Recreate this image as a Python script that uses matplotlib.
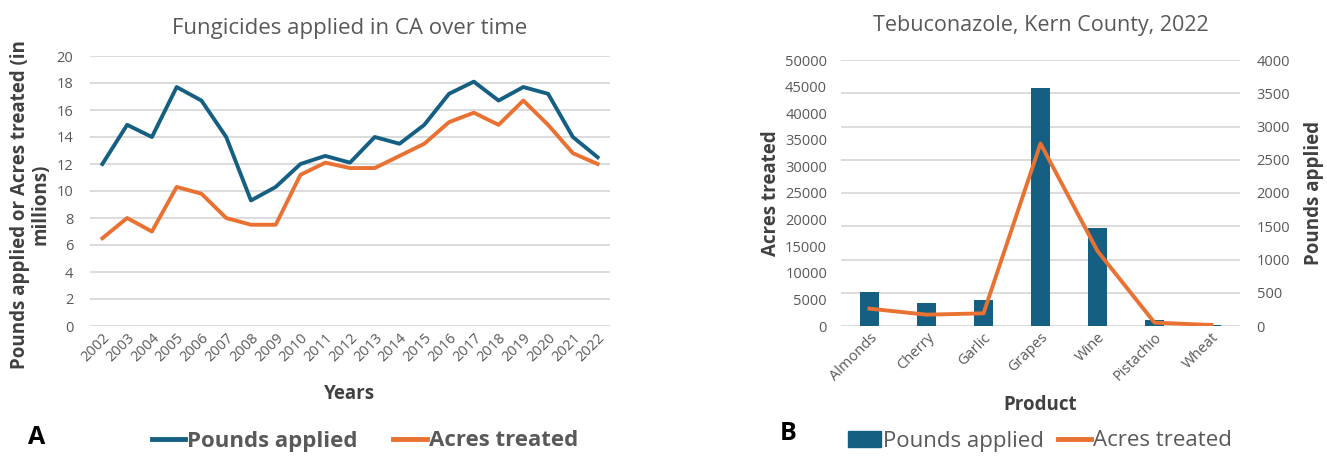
import matplotlib.pyplot as plt
from matplotlib.lines import Line2D
from matplotlib.patches import Patch

# Panel A: fungicides in CA, millions
years = [str(y) for y in range(2002, 2023)]
pounds_applied = [12.0, 14.9, 14.0, 17.7, 16.7, 14.0, 9.3, 10.3, 12.0, 12.6, 12.1,
                  14.0, 13.5, 14.9, 17.2, 18.1, 16.7, 17.7, 17.2, 14.0, 12.5]
acres_treated = [6.5, 8.0, 7.0, 10.3, 9.8, 8.0, 7.5, 7.5, 11.2, 12.1, 11.7,
                 11.7, 12.6, 13.5, 15.1, 15.8, 14.9, 16.7, 14.9, 12.8, 12.0]

# Panel B: Tebuconazole, Kern County 2022
products = ["Almonds", "Cherry", "Garlic", "Grapes", "Wine", "Pistachio", "Wheat"]
tebu_pounds = [511, 351, 391, 3584, 1478, 90, 20]
tebu_acres = [3260, 2130, 2380, 34300, 14100, 630, 190]

BLUE = "#156082"
ORANGE = "#E97132"
GRID = "#d9d9d9"
TXT = "#595959"
LAB = "#404040"

plt.rcParams['font.family'] = ['Open Sans', 'DejaVu Sans']

fig = plt.figure(figsize=(13.27, 4.57), dpi=100)
W, H = 1327, 457

def frac(x0, y0, x1, y1):
    return [x0 / W, 1 - y1 / H, (x1 - x0) / W, (y1 - y0) / H]

def style(ax):
    for s in ax.spines.values():
        s.set_visible(False)
    ax.tick_params(length=0, colors=TXT, labelsize=10.5)
    ax.grid(axis='y', color=GRID, linewidth=1.3)
    ax.set_axisbelow(True)

# ---- A ----
axA = fig.add_axes(frac(90, 56, 610, 326))
style(axA)
x = list(range(len(years)))
axA.plot(x, pounds_applied, color=BLUE, lw=2.8, solid_joinstyle='round')
axA.plot(x, acres_treated, color=ORANGE, lw=2.8, solid_joinstyle='round')
axA.set_xlim(-0.5, len(years) - 0.5)
axA.set_ylim(0, 20)
axA.set_yticks(range(0, 21, 2))
axA.set_xticks(x)
axA.set_xticklabels(years, rotation=45, ha='right', rotation_mode='anchor')
axA.tick_params(axis='y', pad=12)
axA.tick_params(axis='x', pad=3)
axA.set_title("Fungicides applied in CA over time", color=TXT, fontsize=16, pad=16)
axA.set_xlabel("Years", color=LAB, fontsize=13.5, fontweight='bold', labelpad=14)
axA.set_ylabel("Pounds applied or Acres treated (in\nmillions)", color=LAB,
               fontsize=13.5, fontweight='bold', linespacing=1.05)
axA.yaxis.set_label_coords(-0.075, 0.45)

handlesA = [Line2D([], [], color=BLUE, lw=3.5), Line2D([], [], color=ORANGE, lw=3.5)]
fig.legend(handlesA, ["Pounds applied", "Acres treated"], loc='center',
           bbox_to_anchor=(365 / W, 1 - 441 / H), ncol=2, frameon=False,
           handlelength=1.5, handletextpad=0.1, columnspacing=1.6,
           prop={'weight': 'bold', 'size': 16}, labelcolor=TXT)
fig.text(28 / W, 1 - 437 / H, "A", fontsize=18, fontweight='bold', va='center')

# ---- B ----
axB = fig.add_axes(frac(841, 60, 1240, 326))
style(axB)
xb = list(range(len(products)))
axB2 = axB.twinx()
for s in axB2.spines.values():
    s.set_visible(False)
axB2.tick_params(length=0, colors=TXT, labelsize=10.5, pad=12)
axB2.bar(xb, tebu_pounds, width=0.33, color=BLUE, zorder=1)
axB2.set_ylim(0, 4000)
axB2.set_yticks(range(0, 4001, 500))
axB2.set_ylabel("Pounds applied", color=LAB, fontsize=13.5, fontweight='bold', labelpad=10)

axB.set_zorder(axB2.get_zorder() + 1)
axB.patch.set_visible(False)
axB.plot(xb, tebu_acres, color=ORANGE, lw=2.8, solid_joinstyle='round', zorder=3)
axB.set_ylim(0, 50000)
axB.set_yticks(range(0, 50001, 5000))
axB.set_xlim(-0.5, len(products) - 0.5)
axB.set_xticks(xb)
axB.set_xticklabels(products, rotation=45, ha='right', rotation_mode='anchor')
axB.tick_params(axis='y', pad=10)
axB.tick_params(axis='x', pad=3)
axB.set_ylabel("Acres treated", color=LAB, fontsize=13.5, fontweight='bold', labelpad=3)
axB.set_xlabel("Product", color=LAB, fontsize=13.5, fontweight='bold', labelpad=8)
axB.grid(False)
axB2.grid(axis='y', color=GRID, linewidth=1.3)
axB2.set_axisbelow(True)
axB.set_title("Tebuconazole, Kern County, 2022", color=TXT, fontsize=15.5, pad=21)

handlesB = [Patch(color=BLUE), Line2D([], [], color=ORANGE, lw=3.5)]
fig.legend(handlesB, ["Pounds applied", "Acres treated"], loc='center',
           bbox_to_anchor=(1040 / W, 1 - 441 / H), ncol=2, frameon=False,
           handlelength=1.5, handletextpad=0.1, columnspacing=0.6,
           prop={'size': 16}, labelcolor=TXT)
fig.text(780 / W, 1 - 433 / H, "B", fontsize=18, fontweight='bold', va='center')

fig.savefig("out.png", dpi=100)
